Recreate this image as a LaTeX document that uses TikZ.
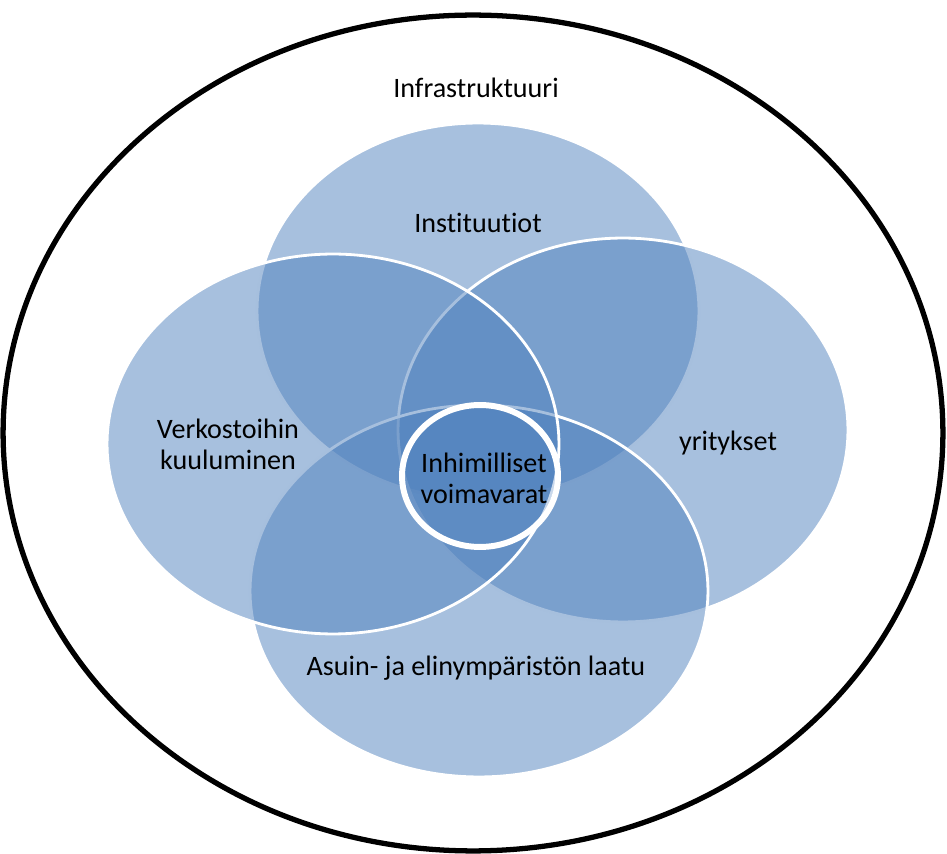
\documentclass[tikz,border=0pt]{standalone}
\usepackage{fontspec}
\setmainfont{Carlito}[Ligatures=NoCommon]
\usepackage{tikz}
\usetikzlibrary{calc}

\definecolor{accent}{HTML}{4F81BD}

\begin{document}
\begin{tikzpicture}[x=0.02cm,y=-0.02cm,
  disk/.style={fill=accent,fill opacity=0.5,draw=white,draw opacity=1,line width=1.6pt},
  lbl/.style={font=\fontsize{16}{17.8}\selectfont,text=black,align=center,inner sep=0pt}]
\useasboundingbox (0,0) rectangle (947,854);
\coordinate (O) at (473,433);
\coordinate (T) at (478,311);
\coordinate (R) at (623,430);
\coordinate (B) at (479,591);
\coordinate (L) at (333,444);
\coordinate (C) at (480,476);

\draw[black,line width=3pt] (O) ellipse [x radius=9.4cm,y radius=8.36cm];
\draw[disk] (T) ellipse [x radius=4.42cm,y radius=3.76cm];
\draw[disk] (R) ellipse [x radius=4.5cm,y radius=3.84cm];
\draw[disk] (B) ellipse [x radius=4.58cm,y radius=3.72cm];
\draw[disk] (L) ellipse [x radius=4.52cm,y radius=3.8cm];
\draw[disk,fill opacity=0.3,line width=3.4pt] (C) ellipse [x radius=1.56cm,y radius=1.42cm];

\node[lbl] (infra) at (476,88) {Infrastruktuuri};
\node[lbl] (inst) at (478,223) {Instituutiot};
\node[lbl] (verk) at (228,444) {Verkostoihin\\kuuluminen};
\node[lbl] (yrit) at (728,443) {yritykset};
\node[lbl] (asuin) at (476,668) {Asuin- ja elinympäristön laatu};
\node[lbl] (inhim) at (484,478) {Inhimilliset\\voimavarat};
\end{tikzpicture}
\end{document}
